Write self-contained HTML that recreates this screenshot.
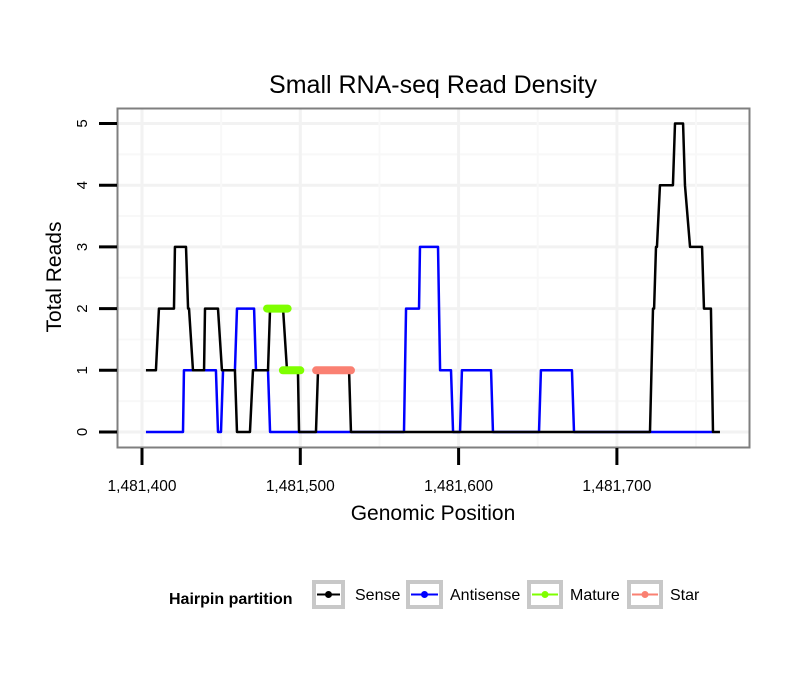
<!DOCTYPE html>
<html><head><meta charset="utf-8"><style>
body{margin:0;background:#fff;}
svg text{font-family:"Liberation Sans",sans-serif;}
</style></head><body>
<svg id="chart" width="810" height="690" xmlns="http://www.w3.org/2000/svg">
<rect width="810" height="690" fill="#fff"/>
<text x="433" y="93" text-anchor="middle" font-size="25">Small RNA-seq Read Density</text>
<g id="grid"></g>
<g id="series"></g>
<rect x="117.5" y="108.5" width="632" height="339" fill="none" stroke="#7f7f7f" stroke-width="2"/>
<g id="axes"></g>
<text x="433" y="520" text-anchor="middle" font-size="21">Genomic Position</text>
<text transform="translate(61,277) rotate(-90)" text-anchor="middle" font-size="21">Total Reads</text>
<g>
<text x="169" y="604" font-size="16" font-weight="bold">Hairpin partition</text>
<g><rect x="314" y="582" width="29" height="25" fill="#fff" stroke="#c8c8c8" stroke-width="4"/><line x1="317" y1="594.5" x2="340" y2="594.5" stroke="#000" stroke-width="2"/><circle cx="328.5" cy="594.5" r="3.5" fill="#000"/><text x="355" y="600" font-size="16">Sense</text></g>
<g><rect x="408" y="582" width="33" height="25" fill="#fff" stroke="#c8c8c8" stroke-width="4"/><line x1="411" y1="594.5" x2="438" y2="594.5" stroke="#0000ff" stroke-width="2"/><circle cx="424.5" cy="594.5" r="3.5" fill="#0000ff"/><text x="450" y="600" font-size="16">Antisense</text></g>
<g><rect x="529" y="582" width="32" height="25" fill="#fff" stroke="#c8c8c8" stroke-width="4"/><line x1="532" y1="594.5" x2="558" y2="594.5" stroke="#7fff00" stroke-width="2"/><circle cx="545" cy="594.5" r="3.5" fill="#7fff00"/><text x="570" y="600" font-size="16">Mature</text></g>
<g><rect x="629" y="582" width="32" height="25" fill="#fff" stroke="#c8c8c8" stroke-width="4"/><line x1="632" y1="594.5" x2="658" y2="594.5" stroke="#fa8072" stroke-width="2"/><circle cx="645" cy="594.5" r="3.5" fill="#fa8072"/><text x="670" y="600" font-size="16">Star</text></g>
</g>
</svg>
<script>
const xTicks=[1481400,1481500,1481600,1481700];
const xTickLabels=["1,481,400","1,481,500","1,481,600","1,481,700"];
const yTicks=[0,1,2,3,4,5];
const senseX=[2.5,8.8,10.7,20.2,20.8,27.8,29.1,29.7,32.2,39.2,39.8,48,50.5,58.7,60,68.2,70.1,79.6,80.9,89.1,91.6,98.5,99.2,109.9,111.2,130.8,132,320.9,322.8,323.5,324.7,325.3,327.2,335.4,336.7,341.8,343,346.2,353.8,355,359.4,360.7,365.1];
const senseY=[1,1,2,2,3,3,2,2,1,1,2,2,1,1,0,0,1,1,2,2,1,1,0,0,1,1,0,0,2,2,3,3,4,4,5,5,4,3,3,2,2,0,0];
const antiX=[2.5,25.9,26.5,46.7,48,49.9,51.2,58.7,60,70.8,72,79.6,80.9,165.5,166.8,175,175.6,187,188.3,195.2,196.5,200.9,202.1,220.5,221.7,250.8,252,271.6,272.9,360.7];
const antiY=[0,0,1,1,0,0,1,1,2,2,1,1,0,0,2,2,3,3,1,1,0,0,1,1,0,0,1,1,0,0];
const matureSeg=[[79,92,2],[89,100,1]];
const starSeg=[[110,132,1]];
const BASE=1481400;
const NS="http://www.w3.org/2000/svg";
const sx=g=>142+(g-BASE)*1.583;
const sxo=o=>142+o*1.583;
const sy=v=>432-v*61.7;
function mk(tag,attrs,parent){const e=document.createElementNS(NS,tag);for(const k in attrs)e.setAttribute(k,attrs[k]);parent.appendChild(e);return e;}
const grid=document.getElementById('grid'),ser=document.getElementById('series'),axes=document.getElementById('axes');
yTicks.forEach((v,i)=>{
 const l=mk('line',{x1:118,x2:749,y1:sy(v),y2:sy(v),stroke:'#f2f2f2','stroke-width':3},grid);
 
 
 if(i<yTicks.length-1){const m=mk('line',{x1:118,x2:749,y1:sy(v+0.5),y2:sy(v+0.5),stroke:'#f8f8f8','stroke-width':2},grid);
 
 }
 const t=mk('line',{x1:99,x2:117,y1:sy(v),y2:sy(v),stroke:'#000','stroke-width':3},axes);
 
 
 const tx=mk('text',{transform:`translate(87,${sy(v)}) rotate(-90)`,'text-anchor':'middle','font-size':15},axes);
 tx.textContent=v;
 
 
});
xTicks.forEach((g,i)=>{
 const l=mk('line',{x1:sx(g),x2:sx(g),y1:109,y2:447,stroke:'#f2f2f2','stroke-width':3},grid);
 
 
 const m=mk('line',{x1:sx(g+50),x2:sx(g+50),y1:109,y2:447,stroke:'#f8f8f8','stroke-width':2},grid);
 
 
 const t=mk('line',{x1:sx(g),x2:sx(g),y1:448,y2:465,stroke:'#000','stroke-width':3},axes);
 
 
 const tx=mk('text',{x:sx(g),y:491,'text-anchor':'middle','font-size':15.5},axes);
 tx.textContent=xTickLabels[i];
 
 
});
function poly(xs,ys,color,name){
 const p=mk('polyline',{points:xs.map((x,i)=>sxo(x)+','+sy(ys[i])).join(' '),fill:'none',stroke:color,'stroke-width':2.5,'stroke-linejoin':'round'},ser);
 
 
}
poly(antiX,antiY,'#0000ff','antisense-line');
poly(senseX,senseY,'#000000','sense-line');
function segs(arr,color,name){arr.forEach(s=>{
 const l=mk('line',{x1:sxo(s[0]),x2:sxo(s[1]),y1:sy(s[2]),y2:sy(s[2]),stroke:color,'stroke-width':8,'stroke-linecap':'round'},ser);
 
 
});}
segs(matureSeg,'#7fff00','mature-segment');
segs(starSeg,'#fa8072','star-segment');
</script>
</body></html>
